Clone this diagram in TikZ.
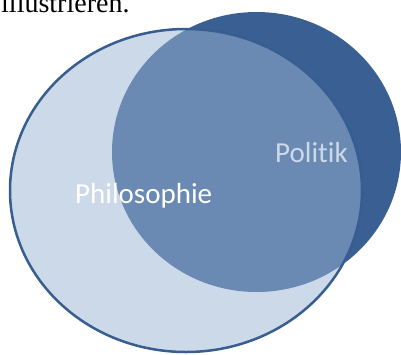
\documentclass[tikz,border=0pt]{standalone}
\usepackage{fontspec}
\setmainfont{Liberation Serif}
\newfontfamily\calibrifont[Ligatures=NoCommon]{Carlito}
\definecolor{politikblue}{RGB}{58,95,146}
\definecolor{philofill}{RGB}{155,181,213}
\definecolor{philoline}{RGB}{56,93,144}
\tikzset{
  setlabel/.style={inner sep=0pt, anchor=base west, text=white, font=\calibrifont\fontsize{29}{29}\selectfont},
  bodytext/.style={inner sep=0pt, anchor=base west, text=black, font=\fontsize{28}{28}\selectfont}
}
\begin{document}
\begin{tikzpicture}[x=1pt,y=-1pt]
\useasboundingbox (0,0) rectangle (401,354);
\clip (0,0) rectangle (401,354);
\fill[white] (0,0) rectangle (401,354);
\node[bodytext] (intro) at (1,12.7) {illustrieren.};
% Politik set
\fill[politikblue] (256.5,152) ellipse [x radius=144.5pt, y radius=140pt];
\node[setlabel] (politik) at (275,162) {Politik};
% Philosophie set (semi-transparent, on top)
\fill[philofill, fill opacity=0.5] (186,190.5) ellipse [x radius=176pt, y radius=161.5pt];
\draw[philoline, line width=2.5pt] (186,190.5) ellipse [x radius=176pt, y radius=161.5pt];
\node[setlabel] (philosophie) at (75,203.5) {Philosophie};
\end{tikzpicture}
\end{document}
